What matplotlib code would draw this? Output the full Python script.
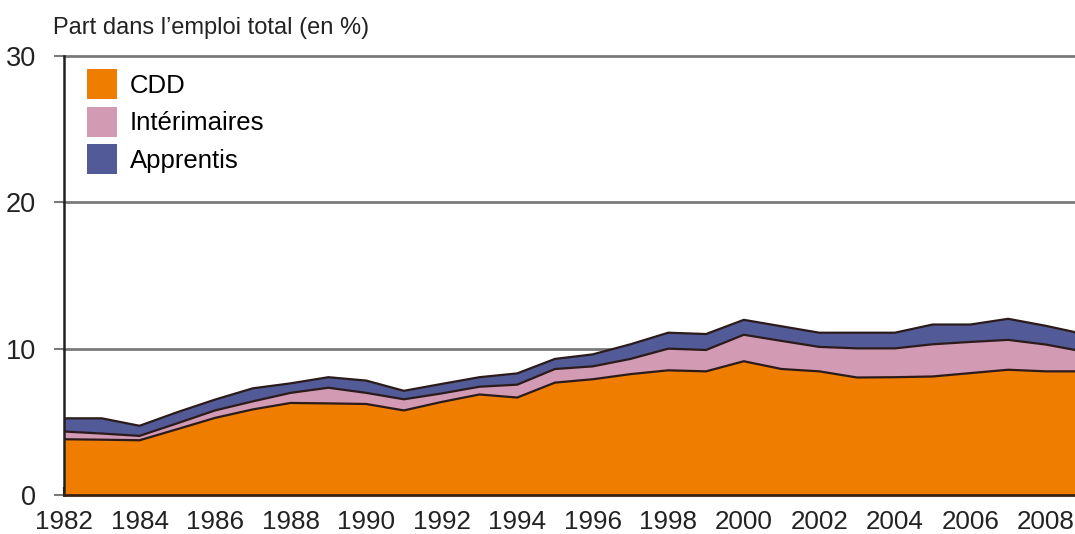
import matplotlib
matplotlib.use("Agg")
import matplotlib.pyplot as plt
from matplotlib.patches import Patch
import numpy as np

plt.rcParams['font.family'] = ['Liberation Sans', 'DejaVu Sans']

years = list(range(1982, 2010))
# parts dans l'emploi total (en %)
cdd = [3.81, 3.78, 3.74, 4.50, 5.27, 5.85, 6.29, 6.26, 6.22, 5.78, 6.36, 6.87, 6.66, 7.68,
       7.91, 8.26, 8.52, 8.45, 9.14, 8.61, 8.45, 8.03, 8.05, 8.10, 8.33, 8.56, 8.45, 8.45]
interim = [0.53, 0.42, 0.30, 0.40, 0.51, 0.55, 0.69, 1.07, 0.76, 0.76, 0.58, 0.53, 0.88, 0.93,
           0.88, 1.04, 1.48, 1.46, 1.81, 1.92, 1.67, 1.99, 1.97, 2.20, 2.13, 2.04, 1.83, 1.35]
apprentis = [0.90, 1.04, 0.69, 0.76, 0.74, 0.89, 0.65, 0.72, 0.84, 0.58, 0.65, 0.65, 0.77, 0.69,
             0.82, 1.00, 1.09, 1.09, 1.02, 1.00, 0.97, 1.07, 1.07, 1.35, 1.19, 1.44, 1.28, 1.20]
labels = ['CDD', 'Intérimaires', 'Apprentis']
colors = ['#EE7D00', '#D39AB4', '#525A97']
xticks = list(range(1982, 2010, 2))
yticks = [0, 10, 20, 30]

fig = plt.figure(figsize=(10.75, 5.34), dpi=100)
ax = fig.add_axes([64/1075, 39/534, 1011/1075, 439/534])

ax.stackplot(years, cdd, interim, apprentis, colors=colors, linewidth=0, zorder=2)
cum = np.cumsum([cdd, interim, apprentis], axis=0)
for row in cum:
    ax.plot(years, row, color='#2B1B1B', lw=1.6, zorder=3)

ax.set_xlim(1982, 2008.77)
ax.set_ylim(0, 30)
for y in yticks[1:]:
    ax.axhline(y, color='#7a7a7a', lw=2, zorder=1, clip_on=False)

ax.spines['right'].set_visible(False)
ax.spines['top'].set_visible(False)
ax.spines['left'].set_linewidth(1.8)
ax.spines['left'].set_color('#222222')
ax.spines['bottom'].set_linewidth(2)
ax.spines['bottom'].set_color('#3a2010')
ax.spines['bottom'].set_zorder(4)

ax.set_xticks(xticks)
ax.set_xticklabels([str(x) for x in xticks])
ax.set_yticks(yticks)
ax.tick_params(axis='x', direction='in', length=6, width=1.5, color='#3a2010',
               labelsize=18.7, pad=10.5, labelcolor='#222222')
ax.tick_params(axis='y', direction='out', length=7.2, width=1.5, color='#7a7a7a',
               labelsize=19.5, pad=13, labelcolor='#222222')
for t in ax.get_xticklines():
    t.set_zorder(5)

handles = [Patch(facecolor=c, edgecolor='none') for c in colors]
fs = 18.5
em = fs * 100 / 72
hh = (30 / em - 0.245) / 0.65
ax.legend(handles, labels, loc='upper left', frameon=False, fontsize=fs,
          bbox_to_anchor=((87 - 64) / 1011, 1 - (69 - 56) / 439),
          borderpad=0, borderaxespad=0, handlelength=30 / em, handleheight=hh,
          handletextpad=13 / em, labelspacing=(44 - hh * em) / em)

fig.text(53/1075, 1 - 28/534, "Part dans l\u2019emploi total (en %)", fontsize=17,
         va='center', ha='left', color='#222222')

fig.savefig('out.png', dpi=100)
